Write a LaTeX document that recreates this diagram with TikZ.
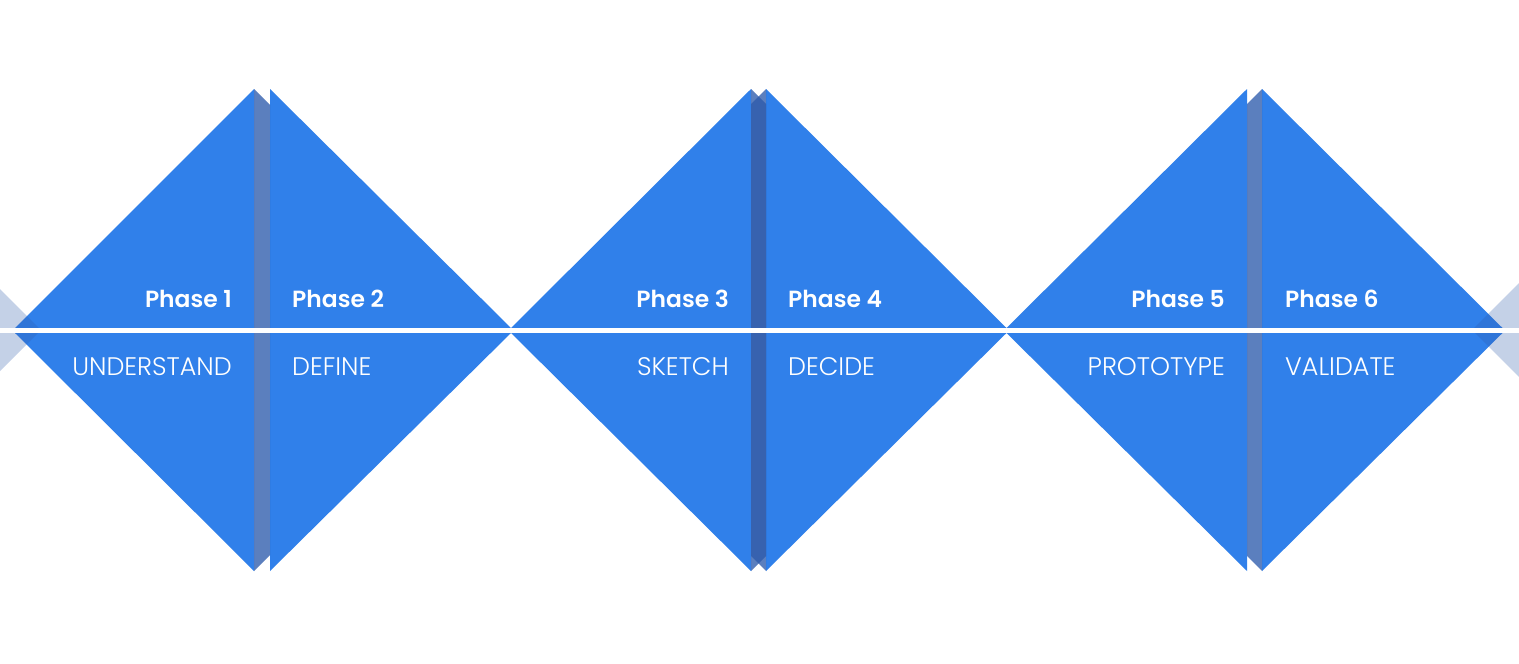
\documentclass[tikz,border=0pt]{standalone}
\usepackage{fontspec}
\newfontfamily\phasefont{Poppins SemiBold}
\newfontfamily\stagefont{Poppins Light}
\usetikzlibrary{positioning}
\definecolor{phaseblue}{RGB}{48,128,234}
\definecolor{bandblue}{RGB}{46,91,172}
\tikzset{
  phasetri/.style={fill=phaseblue},
  bandtri/.style={fill=bandblue, opacity=0.78},
  sidetri/.style={fill=bandblue, opacity=0.28},
  divider/.style={draw=white, line width=4.8pt},
  phaselabel/.style={inner sep=0pt, text=white, font=\phasefont\fontsize{23.4}{24}\selectfont},
  stagelabel/.style={inner sep=0pt, text=white, font=\stagefont\fontsize{25.4}{26}\selectfont}
}

\begin{document}
\begin{tikzpicture}[x=1pt, y=-1pt]

\useasboundingbox (0,0) rectangle (1519,664);
\fill[white] (0,0) rectangle (1519,664);

% ------------------------------------------------
% Triangles
% ------------------------------------------------

\fill[phasetri] (15,328) -- (254,89) -- (254,571) -- (15,333) -- cycle;
\fill[phasetri] (270,89) -- (511,328) -- (511,333) -- (270,571) -- cycle;

\fill[phasetri] (511,328) -- (751,89) -- (751,571) -- (511,333) -- cycle;
\fill[phasetri] (766,89) -- (1006.5,328) -- (1006.5,333) -- (766,571) -- cycle;

\fill[phasetri] (1006.5,328) -- (1247,89) -- (1247,571) -- (1006.5,333) -- cycle;
\fill[phasetri] (1262,89) -- (1502.5,328) -- (1502.5,333) -- (1262,571) -- cycle;

% ------------------------------------------------
% Overlap bands
% ------------------------------------------------

\fill[bandtri] (254,89) -- (270,105) -- (270,555) -- (254,571) -- cycle;

\fill[bandtri] (751,89) -- (766,104) -- (766,556) -- (751,571) -- cycle;
\fill[bandtri] (766,89) -- (751,104) -- (751,556) -- (766,571) -- cycle;

\fill[bandtri] (1262,89) -- (1247,104) -- (1247,556) -- (1262,571) -- cycle;

% ------------------------------------------------
% Pale triangles at the sides
% ------------------------------------------------

\fill[sidetri] (0,289) -- (41,330) -- (0,371) -- cycle;
\fill[sidetri] (1519,283) -- (1472,330) -- (1519,377) -- cycle;

% Line across the whole width
\coordinate (lineL) at (0,330.5);
\coordinate (lineR) at (1519,330.5);
\draw[divider] (lineL) -- (lineR);

% ------------------------------------------------
% Labels
% ------------------------------------------------

\node[phaselabel, anchor=base east] (p1) at (232,307) {Phase 1};
\node[phaselabel, anchor=base west] (p2) at (292,307) {Phase 2};
\node[phaselabel, anchor=base east] (p3) at (729,307) {Phase 3};
\node[phaselabel, anchor=base west] (p4) at (788,307) {Phase 4};
\node[phaselabel, anchor=base east] (p5) at (1225,307) {Phase 5};
\node[phaselabel, anchor=base west] (p6) at (1285,307) {Phase 6};

\node[stagelabel, anchor=base east] (s1) at (232,375) {UNDERSTAND};
\node[stagelabel, anchor=base west] (s2) at (292,375) {DEFINE};
\node[stagelabel, anchor=base east] (s3) at (729,375) {SKETCH};
\node[stagelabel, anchor=base west] (s4) at (788,375) {DECIDE};
\node[stagelabel, anchor=base east] (s5) at (1225,375) {PROTOTYPE};
\node[stagelabel, anchor=base west] (s6) at (1285,375) {VALIDATE};

\end{tikzpicture}
\end{document}
